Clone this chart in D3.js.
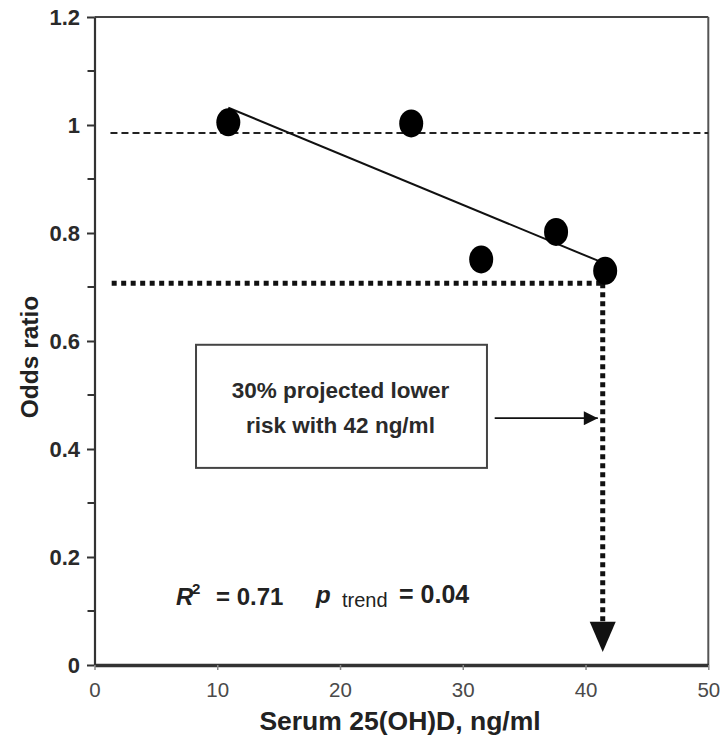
<!DOCTYPE html>
<html>
<head>
<meta charset="utf-8">
<script src="https://cdn.jsdelivr.net/npm/d3@7"></script>
<style>
  html, body { margin: 0; padding: 0; background: #fff; }
  svg { display: block; }
  text { font-family: "Liberation Sans", Arial, Helvetica, sans-serif; }
</style>
</head>
<body>
<svg id="chart" width="728" height="735"></svg>
<script>
// ---- data ----
const xTicks = [0, 10, 20, 30, 40, 50];
const xTickLabels = ["0", "10", "20", "30", "40", "50"];
const yTicks = [0, 0.2, 0.4, 0.6, 0.8, 1.0, 1.2];
const yTickLabels = ["0", "0.2", "0.4", "0.6", "0.8", "1", "1.2"];
const yMinorTicks = [0.1, 0.3, 0.5, 0.7, 0.9, 1.1];

const serum = [10.9, 25.8, 31.5, 37.6, 41.6];
const oddsRatio = [1.005, 1.003, 0.751, 0.802, 0.730];

const trendX = [10.9, 41.4];
const trendY = [1.032, 0.745];

const refLineX = [1.3, 50];
const refLineY = 0.985;

const projectedX = 41.4;
const projectedY = 0.707;
const projectedStartX = 1.4;

const boxX = [8.27, 31.97];
const boxY = [0.365, 0.593];
const boxLines = ["30% projected lower", "risk with 42 ng/ml"];
const arrowX = [32.6, 41.0];
const arrowY = 0.457;

const xTitle = "Serum 25(OH)D, ng/ml";
const yTitle = "Odds ratio";

// ---- layout ----
const svg = d3.select("#chart");
const x = d3.scaleLinear().domain([0, 50]).range([94.5, 708.3]);
const y = d3.scaleLinear().domain([0, 1.2]).range([665, 17]);
const font = '"Liberation Sans", Arial, Helvetica, sans-serif';

svg.append("defs").append("marker")
  .attr("id", "arrowSmall")
  .attr("viewBox", "0 0 10 10")
  .attr("refX", 10).attr("refY", 5)
  .attr("markerWidth", 16).attr("markerHeight", 14)
  .attr("markerUnits", "userSpaceOnUse")
  .attr("orient", "auto")
  .append("path").attr("d", "M0,0 L10,5 L0,10 Z").attr("fill", "#111");

// frame (top and right)
svg.append("line")
  .attr("x1", x(0)).attr("x2", x(50)).attr("y1", y(1.2)).attr("y2", y(1.2))
  .attr("stroke", "#444").attr("stroke-width", 2);
svg.append("line")
  .attr("x1", x(50)).attr("x2", x(50)).attr("y1", y(1.2)).attr("y2", y(0))
  .attr("stroke", "#555").attr("stroke-width", 2);

// y axis
const yAxis = svg.append("g")
  .attr("transform", `translate(${x(0)},0)`)
  .call(d3.axisLeft(y).tickValues(yTicks)
    .tickFormat((d, i) => yTickLabels[i])
    .tickSize(7.5).tickSizeOuter(0).tickPadding(7));
yAxis.select(".domain").attr("stroke", "#333").attr("stroke-width", 2.2);
yAxis.selectAll(".tick line").attr("stroke", "#333").attr("stroke-width", 2);
yAxis.selectAll(".tick text")
  .attr("font-family", font).attr("font-size", 22).attr("font-weight", "bold")
  .attr("fill", "#2a2a2a");

yAxis.selectAll(".minor").data(yMinorTicks).enter().append("line")
  .attr("class", "minor")
  .attr("x1", -7).attr("x2", 0)
  .attr("y1", d => y(d)).attr("y2", d => y(d))
  .attr("stroke", "#333").attr("stroke-width", 2);

// x axis
const xAxis = svg.append("g")
  .attr("transform", `translate(0,${y(0)})`)
  .call(d3.axisBottom(x).tickValues(xTicks)
    .tickFormat((d, i) => xTickLabels[i])
    .tickSize(5).tickSizeOuter(0).tickPadding(12));
xAxis.select(".domain").attr("stroke", "#333").attr("stroke-width", 3.5);
xAxis.selectAll(".tick line").attr("stroke", "#888").attr("stroke-width", 1.5);
xAxis.selectAll(".tick text")
  .attr("font-family", font).attr("font-size", 20.5)
  .attr("fill", "#4a4a4a");

// axis titles
svg.append("text")
  .attr("x", 400).attr("y", 730)
  .attr("text-anchor", "middle")
  .attr("font-family", font).attr("font-size", 26.5).attr("font-weight", "bold")
  .attr("fill", "#222")
  .text(xTitle);
svg.append("text")
  .attr("transform", "translate(38,357) rotate(-90)")
  .attr("text-anchor", "middle")
  .attr("font-family", font).attr("font-size", 24.5).attr("font-weight", "bold")
  .attr("fill", "#222")
  .text(yTitle);

// reference dashed line
svg.append("line")
  .attr("x1", x(refLineX[0])).attr("x2", x(refLineX[1]))
  .attr("y1", y(refLineY)).attr("y2", y(refLineY))
  .attr("stroke", "#222").attr("stroke-width", 2).attr("stroke-dasharray", "7,4");

// projected dotted lines
svg.append("line")
  .attr("x1", x(projectedStartX)).attr("x2", x(projectedX))
  .attr("y1", y(projectedY)).attr("y2", y(projectedY))
  .attr("stroke", "#111").attr("stroke-width", 5).attr("stroke-dasharray", "5,4.5");
const arrowTopY = 0.08;
svg.append("line")
  .attr("x1", x(projectedX)).attr("x2", x(projectedX))
  .attr("y1", y(projectedY)).attr("y2", y(arrowTopY))
  .attr("stroke", "#111").attr("stroke-width", 5).attr("stroke-dasharray", "5,4");
// big arrow head
const tipY = 0.024;
svg.append("path")
  .attr("d", `M${x(projectedX) - 13},${y(arrowTopY)} L${x(projectedX) + 13},${y(arrowTopY)} L${x(projectedX)},${y(tipY)} Z`)
  .attr("fill", "#111");

// trend line
svg.append("line")
  .attr("x1", x(trendX[0])).attr("x2", x(trendX[1]))
  .attr("y1", y(trendY[0])).attr("y2", y(trendY[1]))
  .attr("stroke", "#111").attr("stroke-width", 2);

// points
svg.selectAll(".pt").data(serum).enter().append("ellipse")
  .attr("class", "pt")
  .attr("cx", d => x(d))
  .attr("cy", (d, i) => y(oddsRatio[i]))
  .attr("rx", 12).attr("ry", 14)
  .attr("fill", "#000");

// annotation box
svg.append("rect")
  .attr("x", x(boxX[0])).attr("y", y(boxY[1]))
  .attr("width", x(boxX[1]) - x(boxX[0]))
  .attr("height", y(boxY[0]) - y(boxY[1]))
  .attr("fill", "#fff").attr("stroke", "#444").attr("stroke-width", 2);
svg.selectAll(".boxtxt").data(boxLines).enter().append("text")
  .attr("class", "boxtxt")
  .attr("x", (x(boxX[0]) + x(boxX[1])) / 2 - 1)
  .attr("y", (d, i) => y(boxY[1]) + 53 + i * 35)
  .attr("text-anchor", "middle")
  .attr("font-family", font).attr("font-size", 22.5).attr("font-weight", "bold")
  .attr("fill", "#2a2a2a")
  .text(d => d);

svg.append("line")
  .attr("x1", x(arrowX[0])).attr("x2", x(arrowX[1]))
  .attr("y1", y(arrowY)).attr("y2", y(arrowY))
  .attr("stroke", "#111").attr("stroke-width", 1.8)
  .attr("marker-end", "url(#arrowSmall)");

// statistics text
const stat = svg.append("g").attr("font-family", font).attr("fill", "#222");
stat.append("text").attr("x", 176).attr("y", 605)
  .attr("font-size", 24).attr("font-weight", "bold").attr("font-style", "italic").text("R");
stat.append("text").attr("x", 192).attr("y", 594)
  .attr("font-size", 15).attr("font-weight", "bold").text("2");
stat.append("text").attr("x", 216).attr("y", 605)
  .attr("font-size", 24).attr("font-weight", "bold").text("= 0.71");
stat.append("text").attr("x", 316).attr("y", 603)
  .attr("font-size", 24).attr("font-weight", "bold").attr("font-style", "italic").text("p");
stat.append("text").attr("x", 342).attr("y", 607)
  .attr("font-size", 20).text("trend");
stat.append("text").attr("x", 399).attr("y", 603)
  .attr("font-size", 25).attr("font-weight", "bold").text("= 0.04");
</script>
</body>
</html>
